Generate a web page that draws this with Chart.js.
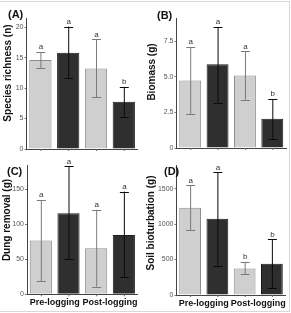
<!DOCTYPE html>
<html>
<head>
<meta charset="utf-8">
<script src="https://cdn.jsdelivr.net/npm/chart.js@4/dist/chart.umd.min.js"></script>
<style>
  html, body { margin: 0; padding: 0; background: #fff; }
  body { width: 291px; height: 313px; position: relative; overflow: hidden; font-family: "Liberation Sans", Arial, sans-serif; }
  canvas { position: absolute; }
  .frame { position: absolute; left: -2px; top: 1px; width: 290px; height: 309px; border: 1px solid #d9d9d9; }
  .ytitle { position: absolute; font-weight: bold; font-size: 10px; color: #111; white-space: nowrap; transform: translate(-50%, -50%) rotate(-90deg); }
  .plabel { position: absolute; font-weight: bold; font-size: 11px; color: #111; transform: translateY(-50%); }
</style>
</head>
<body>
<div class="frame"></div>
<canvas id="cA" width="145" height="155" style="left:0;top:0"></canvas>
<canvas id="cB" width="146" height="155" style="left:145px;top:0"></canvas>
<canvas id="cC" width="145" height="158" style="left:0;top:155px"></canvas>
<canvas id="cD" width="146" height="158" style="left:145px;top:155px"></canvas>
<div class="plabel" style="left:8px;top:14px">(A)</div>
<div class="plabel" style="left:157px;top:15px">(B)</div>
<div class="plabel" style="left:7px;top:171px">(C)</div>
<div class="plabel" style="left:164px;top:171px">(D)</div>
<div class="ytitle" style="left:7px;top:73px">Species richness (n)</div>
<div class="ytitle" style="left:151px;top:72px">Biomass (g)</div>
<div class="ytitle" style="left:6px;top:220px">Dung removal (g)</div>
<div class="ytitle" style="left:150px;top:223px">Soil bioturbation (g)</div>
<script>
// ---- data ----
const groups = ['Pre-logging', 'Post-logging'];

const richnessLight = [14.6, 13.2];
const richnessLightLow = [13.3, 8.5];
const richnessLightHigh = [15.9, 18.0];
const richnessLightLetters = ['a', 'a'];
const richnessDark = [15.8, 7.75];
const richnessDarkLow = [11.6, 5.3];
const richnessDarkHigh = [20.1, 10.2];
const richnessDarkLetters = ['a', 'b'];

const biomassLight = [4.75, 5.1];
const biomassLightLow = [2.4, 3.4];
const biomassLightHigh = [7.1, 6.8];
const biomassLightLetters = ['a', 'a'];
const biomassDark = [5.9, 2.05];
const biomassDarkLow = [3.2, 0.65];
const biomassDarkHigh = [8.5, 3.45];
const biomassDarkLetters = ['a', 'b'];

const dungLight = [77, 66];
const dungLightLow = [19, 11];
const dungLightHigh = [135, 121];
const dungLightLetters = ['a', 'a'];
const dungDark = [116, 85];
const dungDarkLow = [50, 25];
const dungDarkHigh = [183, 147];
const dungDarkLetters = ['a', 'a'];

const soilLight = [1230, 375];
const soilLightLow = [915, 295];
const soilLightHigh = [1545, 465];
const soilLightLetters = ['a', 'b'];
const soilDark = [1075, 440];
const soilDarkLow = [415, 100];
const soilDarkHigh = [1730, 785];
const soilDarkLetters = ['a', 'b'];

const richnessTicks = [0, 5, 10, 15, 20];
const biomassTicks = [0, 2.5, 5.0, 7.5];
const dungTicks = [0, 50, 100, 150];
const soilTicks = [0, 500, 1000, 1500];

// ---- drawing ----
const FONT = '"Liberation Sans", Arial, sans-serif';

const errorBarPlugin = {
  id: 'errbars',
  afterDatasetsDraw(chart) {
    const ctx = chart.ctx;
    const ys = chart.scales.y;
    const xs = chart.scales.x;
    chart.data.datasets.forEach((ds, i) => {
      const meta = chart.getDatasetMeta(i);
      meta.data.forEach((el, j) => {
        const x = el.x;
        const yl = ys.getPixelForValue(ds.errLow[j]);
        const yh = ys.getPixelForValue(ds.errHigh[j]);
        ctx.save();
        ctx.strokeStyle = ds.errColor;
        ctx.lineWidth = 1;
        ctx.beginPath();
        ctx.moveTo(x + 0.5, yl); ctx.lineTo(x + 0.5, yh);
        ctx.moveTo(x - 4, Math.round(yl) + 0.5); ctx.lineTo(x + 5, Math.round(yl) + 0.5);
        ctx.moveTo(x - 4, Math.round(yh) + 0.5); ctx.lineTo(x + 5, Math.round(yh) + 0.5);
        ctx.stroke();
        // tick mark under bar
        ctx.strokeStyle = '#666';
        ctx.beginPath();
        ctx.moveTo(x + 0.5, xs.top); ctx.lineTo(x + 0.5, xs.top + 2);
        ctx.stroke();
        // letter
        ctx.fillStyle = '#333';
        ctx.font = '8px ' + FONT;
        ctx.textAlign = 'center';
        ctx.textBaseline = 'bottom';
        ctx.fillText(ds.letters[j], x + 0.5, yh - 1);
        ctx.restore();
      });
    });
  }
};

function makeChart(id, cfg) {
  const datasets = [
    {
      label: 'Light', data: cfg.light, errLow: cfg.lightLow, errHigh: cfg.lightHigh, letters: cfg.lightLetters,
      backgroundColor: '#cfcfcf', borderColor: '#8c8c8c', borderWidth: 1, errColor: '#7a7a7a',
      barPercentage: 0.8, categoryPercentage: 1.0
    },
    {
      label: 'Dark', data: cfg.dark, errLow: cfg.darkLow, errHigh: cfg.darkHigh, letters: cfg.darkLetters,
      backgroundColor: '#2f2f2f', borderColor: '#1c1c1c', borderWidth: 1, errColor: '#0a0a0a',
      barPercentage: 0.8, categoryPercentage: 1.0
    }
  ];
  return new Chart(document.getElementById(id), {
    type: 'bar',
    data: { labels: groups, datasets },
    options: {
      responsive: false,
      animation: false,
      devicePixelRatio: 1,
      layout: { padding: { left: 0, top: cfg.top, right: cfg.right, bottom: 0 } },
      plugins: { legend: { display: false }, tooltip: { enabled: false } },
      scales: {
        x: {
          grid: { display: false, drawOnChartArea: false, drawTicks: false, tickLength: 0 },
          border: { display: true, color: '#444', width: 1 },
          ticks: {
            display: cfg.showX,
            color: '#111',
            padding: 3,
            font: { family: FONT, size: 9, weight: 'bold' },
            maxRotation: 0, autoSkip: false
          },
          afterFit(s) { s.height = cfg.xHeight; }
        },
        y: {
          min: 0, max: cfg.max,
          grid: { display: true, drawOnChartArea: false, drawTicks: true, tickLength: 2, color: '#777' },
          border: { display: true, color: '#444', width: 1 },
          ticks: {
            color: '#555', padding: 1,
            font: { family: FONT, size: 7 },
            callback: cfg.fmt
          },
          afterBuildTicks(s) { s.ticks = cfg.ticks.map(v => ({ value: v })); },
          afterFit(s) { s.width = cfg.left; }
        }
      }
    },
    plugins: [errorBarPlugin]
  });
}

makeChart('cA', {
  light: richnessLight, lightLow: richnessLightLow, lightHigh: richnessLightHigh, lightLetters: richnessLightLetters,
  dark: richnessDark, darkLow: richnessDarkLow, darkHigh: richnessDarkHigh, darkLetters: richnessDarkLetters,
  ticks: richnessTicks, max: 21.5, fmt: v => String(v),
  left: 26.5, right: 7.3, top: 18, xHeight: 6, showX: false
});
makeChart('cB', {
  light: biomassLight, lightLow: biomassLightLow, lightHigh: biomassLightHigh, lightLetters: biomassLightLetters,
  dark: biomassDark, darkLow: biomassDarkLow, darkHigh: biomassDarkHigh, darkLetters: biomassDarkLetters,
  ticks: biomassTicks, max: 9.15, fmt: v => (v === 0 ? '0' : v.toFixed(1)),
  left: 31.5, right: 5, top: 18, xHeight: 7, showX: false
});
makeChart('cC', {
  light: dungLight, lightLow: dungLightLow, lightHigh: dungLightHigh, lightLetters: dungLightLetters,
  dark: dungDark, darkLow: dungDarkLow, darkHigh: dungDarkHigh, darkLetters: dungDarkLetters,
  ticks: dungTicks, max: 185, fmt: v => String(v),
  left: 27, right: 7.3, top: 10, xHeight: 18.7, showX: true
});
makeChart('cD', {
  light: soilLight, lightLow: soilLightLow, lightHigh: soilLightHigh, lightLetters: soilLightLetters,
  dark: soilDark, darkLow: soilDarkLow, darkHigh: soilDarkHigh, darkLetters: soilDarkLetters,
  ticks: soilTicks, max: 1833, fmt: v => String(v),
  left: 31.5, right: 5.5, top: 10, xHeight: 18, showX: true
});
</script>
</body>
</html>
